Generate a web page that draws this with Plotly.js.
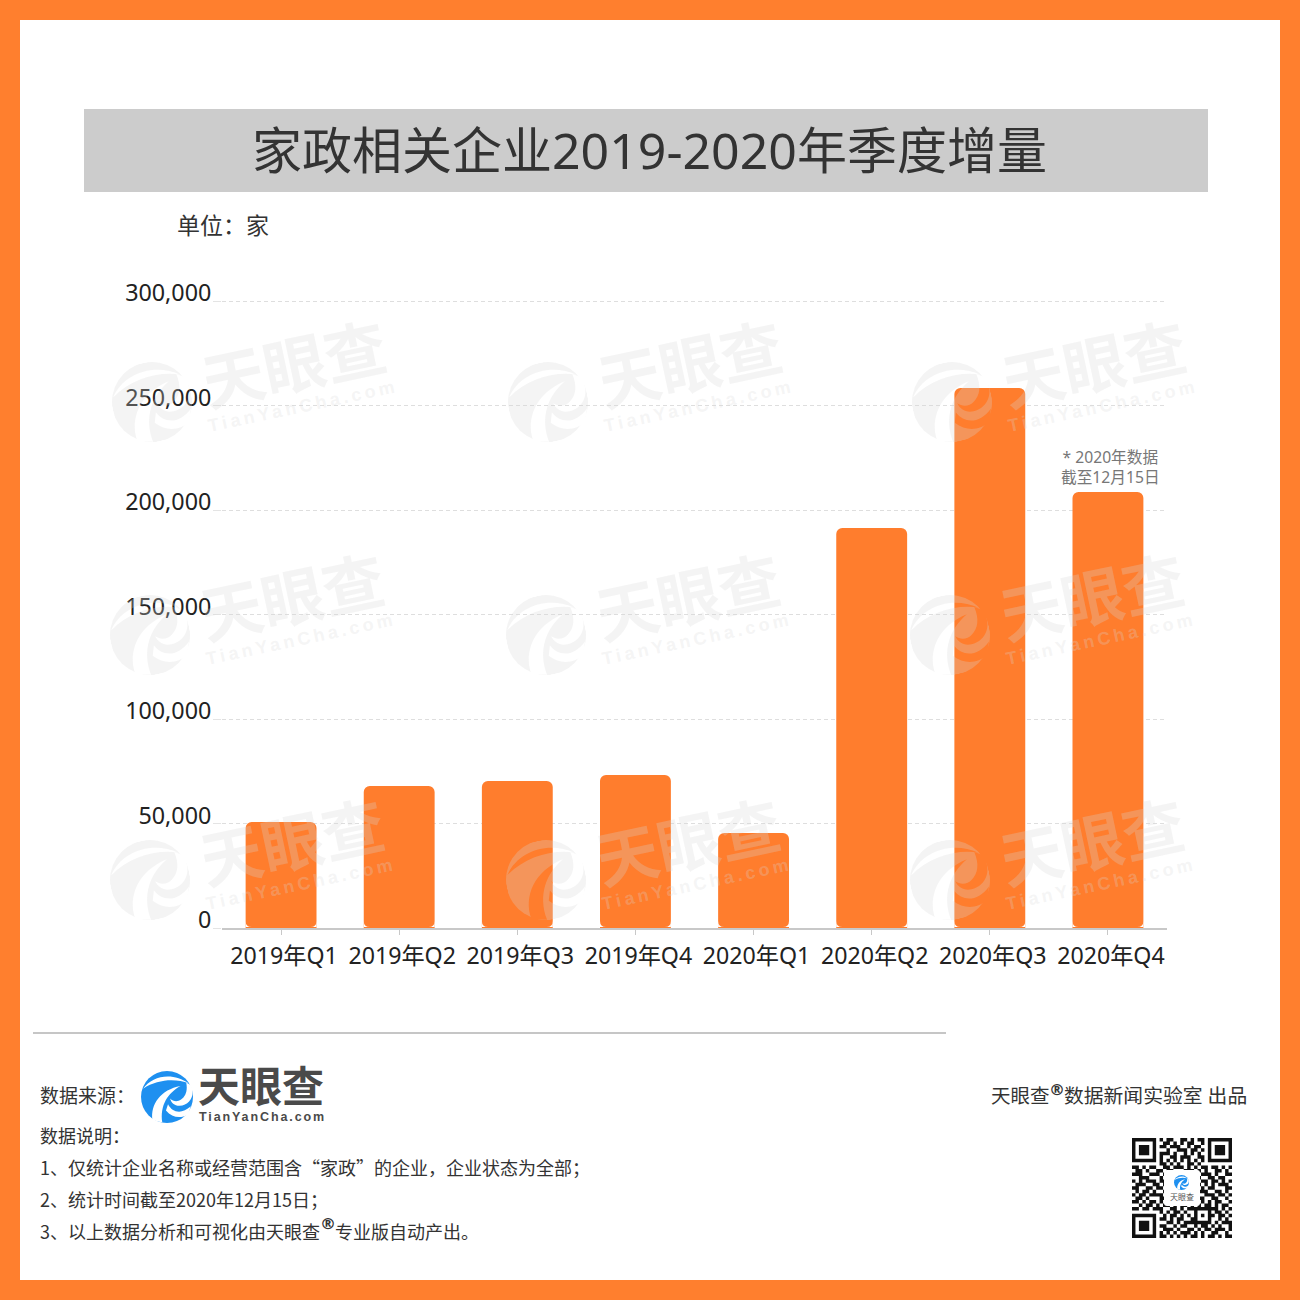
<!DOCTYPE html>
<html><head><meta charset="utf-8">
<script src="https://cdn.plot.ly/plotly-3.0.1.min.js"></script>
<style>
html,body{margin:0;padding:0;background:#fff}
#wrap{position:relative;width:1300px;height:1300px;overflow:hidden}
#chart{position:absolute;left:0;top:0;width:1300px;height:1300px}
#over{position:absolute;left:0;top:0;width:1300px;height:1300px;pointer-events:none}
</style></head><body>
<div id="wrap"><div id="chart"></div><svg id="over" xmlns="http://www.w3.org/2000/svg" width="1300" height="1300" viewBox="0 0 1300 1300"></svg></div>
<script>
const categories = ["2019年Q1","2019年Q2","2019年Q3","2019年Q4","2020年Q1","2020年Q2","2020年Q3","2020年Q4"];
const increments = [50700,67900,70300,73200,45500,191400,258400,208600];
const yTicks = [0,50000,100000,150000,200000,250000,300000];
const chartTitle = "家政相关企业2019-2020年季度增量";
const unitLabel = "单位\uFF1A家";
const sourceLabel = "数据来源\uFF1A";
const barNote = "* 2020年数据<br>截至12月15日";
const notes = ["数据说明\uFF1A","1、仅统计企业名称或经营范围含\u201C家政\u201D的企业\uFF0C企业状态为全部\uFF1B","2、统计时间截至2020年12月15日\uFF1B","3、以上数据分析和可视化由天眼查","专业版自动产出。"];
const qrRows = [
"11111110101100110101101111111",
"10000010011010101100101000001",
"10111010110111001011001011101",
"10111010001001110110101011101",
"10111010111010010101001011101",
"10000010100110111001101000001",
"11111110101010101010101111111",
"00000000110101001101000000000",
"11010110011011101010110110101",
"01101001101100011101010011010",
"11100111010111010010111010011",
"00111000101000111011001101100",
"10101110110000000010110110101",
"01110011010000000011010101110",
"11001101100000000010101100011",
"01011010010000000001110011010",
"10110111100000000010011101101",
"01101000110000000011100110010",
"11010110101101011100101011001",
"00101101011010110101011010110",
"11011011100110101111111110101",
"00000000101011010010001011010",
"11111110010110101010101101101",
"10000010110101100110001001010",
"10111010001101011111111010111",
"10111010110010110010110101001",
"10111010011101001101011011101",
"10000010101010111010100110010",
"11111110110101010110101101011"];

const W = 1300, H = 1300;
const CJK = '"Noto Sans","Noto Sans CJK SC",sans-serif';
const CJK1 = '"Noto Sans CJK SC","Noto Sans",sans-serif';
const LAT = '"Liberation Sans",sans-serif';
const DEJ = '"DejaVu Sans",sans-serif';
const px = v => v / W, py = v => 1 - v / H;
function label(x, y, text, size, color, anchor, extra) {
  const a = anchor || 'left';
  const dx = a === 'left' ? -2 : (a === 'right' ? 2 : 0);
  return Object.assign({xref:'paper', yref:'paper', x:px(x+dx), y:py(y-1.5), text, showarrow:false,
    xanchor:a, yanchor:'middle', align:a,
    font:{family:CJK, size, color}}, extra || {});
}
function box(x0, y0, x1, y1, fill) {
  return {type:'rect', xref:'paper', yref:'paper', layer:'below', x0:px(x0), x1:px(x1), y0:py(y0), y1:py(y1), fillcolor:fill, line:{width:0}};
}
const spaced = (t, s) => `<span style="letter-spacing:${s}px">${t}</span>`;
const cjkFirst = size => ({font:{family:CJK1, size, color:'#333333'}});

const wmColor = 'rgba(215,215,215,0.27)';
const wmLogos = [[152,402],[548,402],[952,402],[150,635],[546,635],[950,635],[150,880],[546,880],[950,880]];
const annotations = [
  label(649, 152, chartTitle, 50, '#333333', 'center'),
  label(177, 225, unitLabel, 23, '#333333', 'left', cjkFirst(23)),
  label(40, 1096, sourceLabel, 19, '#333333', 'left', cjkFirst(19)),
  label(198, 1087, "天眼查", 42, '#4a4a4a', 'left', {font:{family:CJK, size:42, color:'#4a4a4a', weight:700}}),
  label(199, 1118, spaced("TianYanCha.com", 1.9), 12.5, '#4a4a4a', 'left', {font:{family:LAT, size:12.5, color:'#4a4a4a', weight:700}}),
  label(40, 1136, notes[0], 18, '#333333', 'left', cjkFirst(18)),
  label(40, 1168, notes[1], 18, '#333333', 'left', cjkFirst(18)),
  label(40, 1200, notes[2], 18, '#333333', 'left', cjkFirst(18)),
  label(40, 1232, notes[3], 18, '#333333', 'left', cjkFirst(18)),
  label(320, 1225, "®", 16, '#333333', 'left', {font:{family:DEJ, size:16, color:'#333333', weight:700}}),
  label(335, 1232, notes[4], 18, '#333333', 'left', cjkFirst(18)),
  label(991, 1097, "天眼查", 19.5, '#333333'),
  label(1049, 1091, "®", 16, '#333333', 'left', {font:{family:DEJ, size:16, color:'#333333', weight:700}}),
  label(1247, 1097, "数据新闻实验室 出品", 19.8, '#333333', 'right'),
  {xref:'x', yref:'y', x:7, y:increments[7], yshift:2, xshift:3, text:barNote, showarrow:false, xanchor:'center', yanchor:'bottom', align:'center',
   font:{family:CJK, size:15.7, color:'#777777'}}
];
wmLogos.forEach(([x,y]) => {
  annotations.push(label(x+142, y-37, "天眼查", 62, wmColor, 'center', {textangle:-12, font:{family:CJK, size:62, color:wmColor, weight:700}}));
  annotations.push(label(x+151, y+5, spaced("TianYanCha.com", 3.5), 18, wmColor, 'center', {textangle:-12, font:{family:LAT, size:18, color:wmColor, weight:700}}));
});

// Rounded lower corners of each bar, anchored to its category on the axis
const barHalf = 0.3 * 945 / 8, cr = 6;
const cornerShapes = [];
categories.forEach(c => {
  [-1,1].forEach(s => {
    const e = s * barHalf, i = s * (barHalf - cr);
    cornerShapes.push({type:'path', layer:'above', xref:'x', yref:'y', xsizemode:'pixel', ysizemode:'pixel', xanchor:c, yanchor:0,
      path:`M${e} 1 L${e} ${1+cr} Q${e} 1 ${i} 1 Z`, fillcolor:'#ffffff', line:{width:0}});
  });
});

const data = [{type:'bar', x:categories, y:increments, width:0.6, marker:{color:'#FF7D2D', line:{width:0}}, hoverinfo:'x+y'}];
const layout = {
  width:W, height:H, margin:{l:0,r:0,t:0,b:0,pad:0}, autosize:false, showlegend:false,
  paper_bgcolor:'#FF7F2E', plot_bgcolor:'rgba(0,0,0,0)',
  font:{family:CJK},
  barcornerradius:6,
  xaxis:{domain:[222/W,1167/W], type:'category', range:[-0.5,7.5], tickmode:'array', tickvals:categories, ticktext:categories,
    ticks:'outside', ticklen:5, tickwidth:1, tickcolor:'#c8c8c8', showline:true, linecolor:'#c8c8c8', linewidth:2,
    showgrid:false, zeroline:false, tickfont:{family:CJK,size:23.2,color:'#222222'}, tickangle:0, ticklabelshift:3, ticklabelstandoff:1},
  yaxis:{domain:[1-928/H,1-(301-1.05)/H], range:[0,300500], tickmode:'array', tickvals:yTicks, tickformat:',d',
    ticks:'outside', ticklen:8, tickwidth:1, tickcolor:'#e4e4e4', showline:false, zeroline:false,
    showgrid:true, gridcolor:'#dedede', griddash:'4px,3px', gridwidth:1,
    ticklabelshift:-8, ticklabelstandoff:-3, tickfont:{family:CJK,size:23.3,color:'#222222'}},
  shapes:[
    box(20,20,1280,1280,'#ffffff'),
    box(84,109,1208,192,'#CCCCCC'),
    box(33,1032,946,1034,'#C6C6C6')
  ].concat(cornerShapes),
  annotations
};

// Brand marks (logo and QR decoration)
const over = document.getElementById('over');
const swooshes = [
  "M4 34 C22 8 62 2 92 24 C66 14 32 16 4 34Z",
  "M22 94 C18 64 38 36 76 29 C52 42 36 66 41 99Z",
  "M97 28 C104 48 94 66 74 67 C64 67 58 61 56 53 C62 59 70 60 77 55 C86 49 90 38 87 22Z",
  "M52 64 C60 80 78 84 96 68 L90 84 C76 92 60 90 48 76Z"
];
let defs = '<defs><mask id="lm" maskUnits="userSpaceOnUse" x="0" y="0" width="100" height="100"><circle cx="50" cy="50" r="50" fill="#fff"/>';
swooshes.forEach(d => defs += `<path d="${d}" fill="#000"/>`);
defs += '</mask><symbol id="logo" viewBox="0 0 100 100" overflow="visible"><rect x="0" y="0" width="100" height="100" fill="currentColor" mask="url(#lm)"/></symbol></defs>';
let svg = defs;
wmLogos.forEach(([x,y]) => {
  svg += `<g transform="rotate(-12 ${x} ${y})" style="color:rgb(215,215,215)" opacity="0.27"><use href="#logo" x="${x-40}" y="${y-40}" width="80" height="80"/></g>`;
});
svg += `<g style="color:#1E90F0"><use href="#logo" x="141" y="1071" width="52" height="52"/></g>`;
const qx = 1132, qy = 1138, qm = 100 / 29;
let qr = '';
qrRows.forEach((r,j) => { for (let i = 0; i < r.length; i++) if (r[i] === '1') qr += `M${(qx+i*qm).toFixed(2)} ${(qy+j*qm).toFixed(2)}h${qm.toFixed(2)}v${qm.toFixed(2)}h-${qm.toFixed(2)}z`; });
svg += `<path d="${qr}" fill="#111"/>`;
svg += `<rect x="1164" y="1170" width="36" height="36" rx="3" fill="#fff"/>`;
svg += `<g style="color:#1E90F0"><use href="#logo" x="1174" y="1175" width="15" height="15"/></g>`;
svg += `<text x="1182" y="1200" font-size="8" text-anchor="middle" fill="#555" font-family='"Noto Sans CJK SC"'>天眼查</text>`;
over.innerHTML = svg;

Plotly.newPlot('chart', data, layout, {displayModeBar:false, staticPlot:true});
</script></body></html>
